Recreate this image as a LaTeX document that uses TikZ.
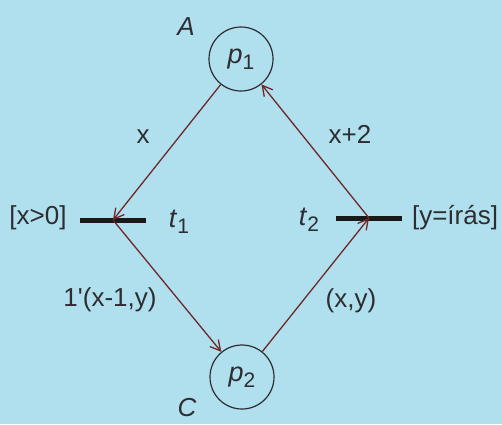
\documentclass[tikz,border=0pt]{standalone}
\usepackage{fontspec}
\setmainfont{Liberation Sans}
\usetikzlibrary{arrows.meta}
\definecolor{bg}{RGB}{176,224,238}
\definecolor{arc}{RGB}{110,40,40}
\definecolor{ink}{RGB}{45,45,50}
\newcommand{\sub}[2]{\textit{#1}\raisebox{-0.4ex}{\fontsize{21}{21}\selectfont #2}}
\begin{document}
\begin{tikzpicture}[x=1pt,y=-1pt,
  place/.style={circle,draw=ink,line width=1.2pt,minimum size=64pt,inner sep=0pt,text=ink,font=\fontsize{27}{27}\selectfont},
  trans/.style={rectangle,fill=black!90,minimum width=66pt,minimum height=5pt,inner sep=0pt},
  lbl/.style={font=\fontsize{26}{26}\selectfont,inner sep=0pt,text=ink},
  arcline/.style={draw=arc,line width=1.3pt,-{Straight Barb[length=10pt,width=11pt]}}]
\fill[bg] (0,0) rectangle (502,424);
\useasboundingbox (0,0) rectangle (502,424);
\node[place] (p1) at (241,59) {\sub{p}{1}};
\node[place] (p2) at (242,377) {\sub{p}{2}};
\node[trans] (t1) at (113,220) {};
\node[trans] (t2) at (369,218) {};
\node[lbl,font=\fontsize{26}{26}\selectfont\itshape] (A) at (186,27) {A};
\node[lbl,font=\fontsize{26}{26}\selectfont\itshape] (C) at (187,408) {C};
\node[lbl] (lx) at (143,137) {x};
\node[lbl] (lx2) at (350,134) {x+2};
\node[lbl] (g1) at (38,218) {[x>0]};
\node[lbl] (g2) at (455,218) {[y=írás]};
\node[lbl,font=\fontsize{27}{27}\selectfont] (lt1) at (179,222) {\sub{t}{1}};
\node[lbl,font=\fontsize{27}{27}\selectfont] (lt2) at (309,220) {\sub{t}{2}};
\node[lbl] (l3) at (110,300) {1\textquotesingle(x-1,y)};
\node[lbl] (l4) at (351,301) {(x,y)};
\draw[arcline] (p1) -- (t1.center);
\draw[arcline] (t1.center) -- (p2);
\draw[arcline] (p2) -- (t2.center);
\draw[arcline] (t2.center) -- (p1);
\end{tikzpicture}
\end{document}
